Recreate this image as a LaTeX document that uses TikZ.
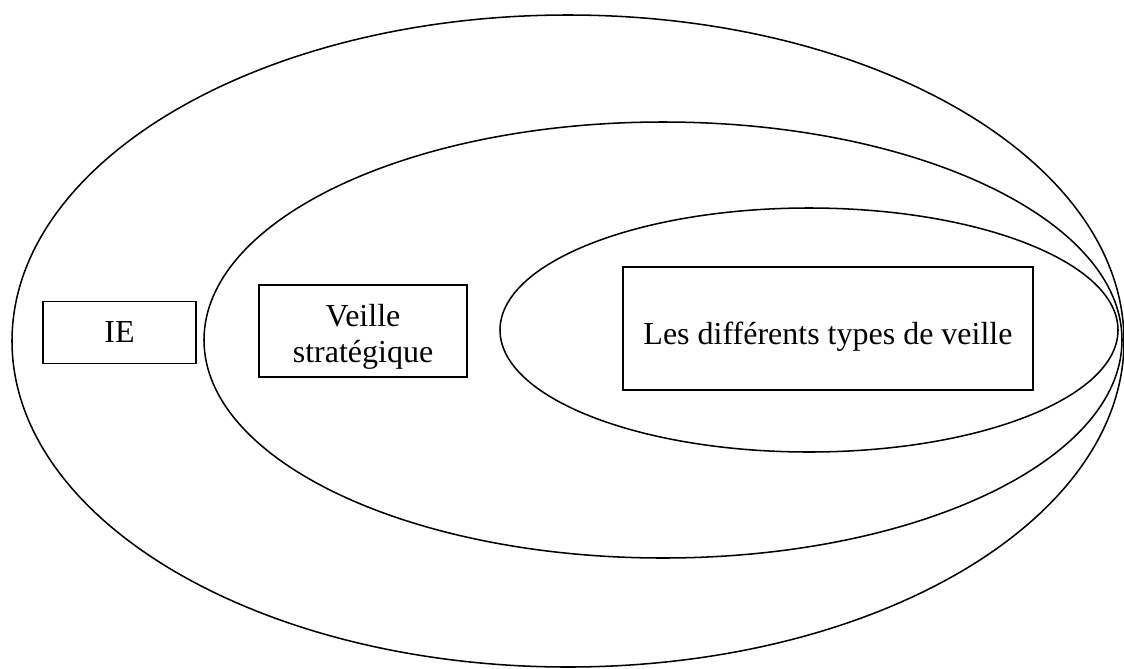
\documentclass[tikz,border=0pt]{standalone}
\usepackage{fontspec}
\setmainfont{Liberation Serif}
\usetikzlibrary{shapes.geometric}
\begin{document}
\begin{tikzpicture}[x=0.75pt,y=-0.75pt,
  ring/.style={draw,ellipse,line width=1.15pt,inner sep=0pt},
  label box/.style={draw,rectangle,line width=1.15pt,inner sep=0pt},
  label text/.style={inner sep=0pt,anchor=base,font=\fontsize{24}{27.6}\selectfont}]
\useasboundingbox (0,0) rectangle (1124,668);
\node[ring,minimum width=834pt,minimum height=489pt] (outer) at (568,341) {};
\node[ring,minimum width=688.5pt,minimum height=327pt] (middle) at (663,340) {};
\node[ring,minimum width=463.5pt,minimum height=183pt] (inner) at (809,330) {};
\node[label box,minimum width=114.75pt,minimum height=46.5pt] (ie) at (119.5,332.5) {};
\node[label text] (ietext) at (119.5,342) {IE};
\node[label box,minimum width=156pt,minimum height=69pt] (vs) at (363,331) {};
\node[label text] (vstext1) at (363,326) {Veille};
\node[label text] (vstext2) at (363,362) {strat\'egique};
\node[label box,minimum width=307.5pt,minimum height=92.25pt] (types) at (828,328.5) {};
\node[label text] (typestext) at (828,344) {Les diff\'erents types de veille};
\end{tikzpicture}
\end{document}
